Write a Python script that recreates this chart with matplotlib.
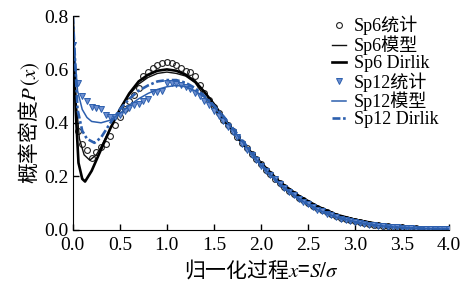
import numpy as np
import matplotlib
matplotlib.use('Agg')
import matplotlib.pyplot as plt

plt.rcParams['font.family'] = ['Liberation Serif', 'Noto Sans CJK SC']
plt.rcParams['mathtext.fontset'] = 'stix'

###########################################################
# data

# Sp6 statistics (circles)
x_sp6_stat = [0.05, 0.10, 0.15, 0.20, 0.25, 0.30, 0.35, 0.40, 0.45, 0.50,
              0.55, 0.60, 0.65, 0.70, 0.75, 0.80, 0.85, 0.90, 0.95, 1.00,
              1.05, 1.10, 1.15, 1.20, 1.25, 1.30, 1.35, 1.40, 1.45, 1.50,
              1.55, 1.60, 1.65, 1.70, 1.75, 1.80, 1.85, 1.90, 1.95, 2.00,
              2.05, 2.10, 2.15, 2.20, 2.25, 2.30, 2.35, 2.40, 2.45, 2.50,
              2.55, 2.60, 2.65, 2.70, 2.75, 2.80, 2.85, 2.90, 2.95, 3.00,
              3.05, 3.10, 3.15, 3.20, 3.25, 3.30, 3.35, 3.40, 3.45, 3.50,
              3.55, 3.60, 3.65, 3.70, 3.75, 3.80, 3.85, 3.90, 3.95, 4.00]
y_sp6_stat = [0.37, 0.32, 0.30, 0.27, 0.29, 0.31, 0.32, 0.35, 0.39, 0.42,
              0.45, 0.48, 0.505, 0.53, 0.575, 0.59, 0.605, 0.615, 0.625, 0.627,
              0.625, 0.615, 0.605, 0.595, 0.59, 0.575, 0.54, 0.51, 0.485, 0.46,
              0.435, 0.41, 0.39, 0.37, 0.345, 0.325, 0.305, 0.285, 0.265, 0.245,
              0.225, 0.21, 0.19, 0.175, 0.16, 0.145, 0.135, 0.12, 0.11, 0.10,
              0.09, 0.08, 0.072, 0.065, 0.058, 0.051, 0.045, 0.040, 0.035, 0.031,
              0.027, 0.024, 0.021, 0.018, 0.016, 0.014, 0.012, 0.010, 0.009, 0.008,
              0.007, 0.006, 0.005, 0.004, 0.004, 0.003, 0.003, 0.002, 0.002, 0.002]

# Sp6 model (thin black)
x_sp6_model = [0.0, 0.03, 0.07, 0.12, 0.18, 0.25, 0.30, 0.40, 0.50, 0.60,
               0.70, 0.80, 0.90, 1.00, 1.10, 1.20, 1.30, 1.40, 1.50, 1.60,
               1.80, 2.00, 2.20, 2.40, 2.60, 2.80, 3.00, 3.20, 3.40, 3.60,
               3.80, 4.00]
y_sp6_model = [0.75, 0.50, 0.34, 0.28, 0.26, 0.28, 0.31, 0.38, 0.45, 0.505,
               0.545, 0.57, 0.585, 0.59, 0.585, 0.575, 0.55, 0.50, 0.455, 0.41,
               0.32, 0.245, 0.175, 0.125, 0.085, 0.055, 0.037, 0.024, 0.014, 0.008,
               0.005, 0.003]

# Sp6 Dirlik (thick black)
x_sp6_dirlik = [0.0, 0.03, 0.06, 0.10, 0.13, 0.20, 0.30, 0.40, 0.50, 0.60,
                0.70, 0.80, 0.90, 1.00, 1.10, 1.20, 1.30, 1.40, 1.50, 1.60,
                1.80, 2.00, 2.20, 2.40, 2.60, 2.80, 3.00, 3.20, 3.40, 3.60,
                3.80, 4.00]
y_sp6_dirlik = [0.80, 0.45, 0.25, 0.19, 0.18, 0.22, 0.30, 0.38, 0.45, 0.51,
                0.555, 0.58, 0.595, 0.60, 0.595, 0.58, 0.555, 0.515, 0.47, 0.42,
                0.325, 0.25, 0.178, 0.127, 0.087, 0.056, 0.037, 0.024, 0.014, 0.008,
                0.005, 0.003]

# Sp12 statistics (triangles)
x_sp12_stat = [0.00, 0.05, 0.10, 0.15, 0.20, 0.25, 0.30, 0.35, 0.40, 0.45,
               0.50, 0.55, 0.60, 0.65, 0.70, 0.75, 0.80, 0.85, 0.90, 0.95,
               1.00, 1.05, 1.10, 1.15, 1.20, 1.25, 1.30, 1.35, 1.40, 1.45,
               1.50, 1.55, 1.60, 1.65, 1.70, 1.75, 1.80, 1.85, 1.90, 1.95,
               2.00, 2.05, 2.10, 2.15, 2.20, 2.25, 2.30, 2.35, 2.40, 2.45,
               2.50, 2.55, 2.60, 2.65, 2.70, 2.75, 2.80, 2.85, 2.90, 2.95,
               3.00, 3.05, 3.10, 3.15, 3.20, 3.25, 3.30, 3.35, 3.40, 3.45,
               3.50, 3.55, 3.60, 3.65, 3.70, 3.75, 3.80, 3.85, 3.90, 3.95, 4.00]
y_sp12_stat = [0.69, 0.55, 0.50, 0.48, 0.46, 0.455, 0.45, 0.43, 0.42, 0.42,
               0.43, 0.445, 0.455, 0.465, 0.47, 0.48, 0.49, 0.515, 0.515, 0.52,
               0.55, 0.55, 0.545, 0.54, 0.535, 0.525, 0.51, 0.50, 0.48, 0.465,
               0.445, 0.425, 0.405, 0.385, 0.365, 0.345, 0.32, 0.30, 0.28, 0.26,
               0.24, 0.22, 0.205, 0.19, 0.17, 0.155, 0.14, 0.13, 0.115, 0.105,
               0.095, 0.085, 0.075, 0.068, 0.06, 0.053, 0.047, 0.041, 0.036, 0.032,
               0.028, 0.024, 0.021, 0.018, 0.016, 0.014, 0.012, 0.010, 0.009, 0.008,
               0.007, 0.006, 0.005, 0.004, 0.004, 0.003, 0.003, 0.002, 0.002, 0.002, 0.001]

# Sp12 model (thin blue)
x_sp12_model = [0.0, 0.0, 0.05, 0.10, 0.15, 0.20, 0.30, 0.40, 0.50, 0.60,
                0.70, 0.80, 0.90, 1.00, 1.10, 1.20, 1.30, 1.40, 1.50, 1.60,
                1.80, 2.00, 2.20, 2.40, 2.60, 2.80, 3.00, 3.20, 3.40, 3.60,
                3.80, 4.00]
y_sp12_model = [0.0, 0.75, 0.52, 0.45, 0.42, 0.405, 0.40, 0.41, 0.435, 0.465,
                0.49, 0.51, 0.525, 0.535, 0.54, 0.535, 0.52, 0.495, 0.46, 0.42,
                0.33, 0.24, 0.17, 0.115, 0.075, 0.047, 0.029, 0.017, 0.010, 0.006,
                0.003, 0.002]

# Sp12 Dirlik (blue dash-dot)
x_sp12_dirlik = [0.0, 0.05, 0.10, 0.15, 0.23, 0.30, 0.40, 0.50, 0.60, 0.70,
                 0.80, 0.90, 1.00, 1.10, 1.20, 1.30, 1.40, 1.50, 1.60, 1.80,
                 2.00, 2.20, 2.40, 2.60, 2.80, 3.00, 3.20, 3.40, 3.60, 3.80, 4.00]
y_sp12_dirlik = [0.80, 0.45, 0.37, 0.34, 0.325, 0.345, 0.40, 0.45, 0.49, 0.52,
                 0.54, 0.555, 0.56, 0.56, 0.55, 0.53, 0.50, 0.465, 0.425, 0.335,
                 0.245, 0.17, 0.115, 0.075, 0.047, 0.028, 0.016, 0.009, 0.005, 0.003, 0.002]

blue = '#2c5fae'

###########################################################
# plot

fig = plt.figure(figsize=(4.61, 2.91), dpi=100)
ax = fig.add_axes([0.158, 0.211, 0.816, 0.734])

ax.plot(x_sp6_stat, y_sp6_stat, ls='', marker='o', ms=4.2, mfc='none',
        mec='#222222', mew=0.8, label='Sp6统计', zorder=1.5)
ax.plot(x_sp6_model, y_sp6_model, color='#111111', lw=1.0, label='Sp6模型')
ax.plot(x_sp6_dirlik, y_sp6_dirlik, color='black', lw=1.9, label='Sp6 Dirlik')
ax.plot(x_sp12_stat, y_sp12_stat, ls='', marker='v', ms=4.6, mfc='#6d8fd0',
        mec=blue, mew=0.7, label='Sp12统计')
ax.plot(x_sp12_model, y_sp12_model, color=blue, lw=1.1, label='Sp12模型')
ax.plot(x_sp12_dirlik, y_sp12_dirlik, color=blue, lw=1.9,
        ls=(0, (3, 1, 1, 1)), label='Sp12 Dirlik')

ax.set_xlim(0, 4.0)
ax.set_ylim(0, 0.8)
ax.set_xticks(np.arange(0, 4.01, 0.5))
ax.set_yticks(np.arange(0, 0.81, 0.2))
ax.xaxis.set_major_formatter(matplotlib.ticker.FormatStrFormatter('%.1f'))
ax.yaxis.set_major_formatter(matplotlib.ticker.FormatStrFormatter('%.1f'))
ax.tick_params(direction='in', length=4, width=1, labelsize=14)
ax.tick_params(axis='x', pad=5)
ax.tick_params(axis='y', pad=3)
ax.spines['top'].set_visible(False)
ax.spines['right'].set_visible(False)

# CJK text with mathtext: the non-math part takes the text's own family
ax.set_xlabel('归一化过程$x$=$S/\\sigma$', fontsize=15, labelpad=3,
              family='Noto Sans CJK SC')
ax.set_ylabel('概率密度$P\\,(x)$', fontsize=15, labelpad=2,
              family='Noto Sans CJK SC')

ax.legend(loc='upper left', bbox_to_anchor=(0.655, 1.06), frameon=False,
          fontsize=13, handlelength=0.8, handletextpad=0.4,
          labelspacing=0.0, borderpad=0.2)

plt.savefig('out.png', dpi=100)
